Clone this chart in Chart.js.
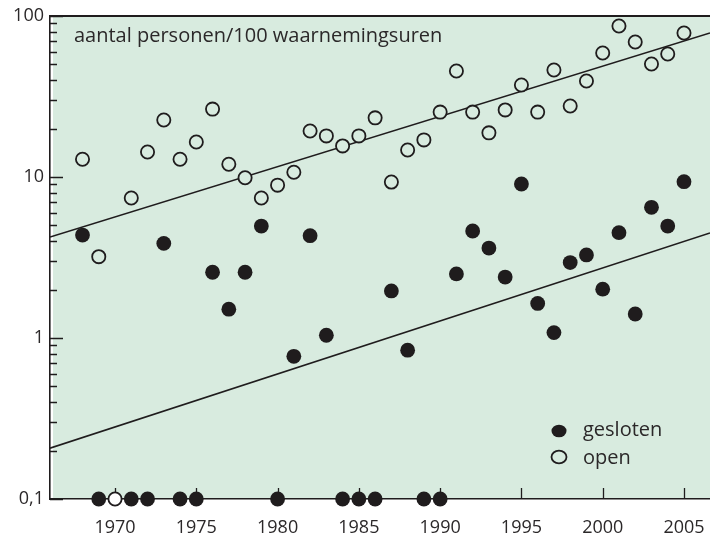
<!DOCTYPE html>
<html>
<head>
<meta charset="utf-8">
<script src="https://cdn.jsdelivr.net/npm/chart.js@4/dist/chart.umd.min.js"></script>
<style>
    html, body { margin: 0; padding: 0; background: #fff; }
    #wrap { width: 710px; height: 539px; }
</style>
</head>
<body>
<div id="wrap"><canvas id="chart" width="710" height="539"></canvas></div>
<script>
// Waarnemingsjaren
const years = [
    1968, 1969, 1970, 1971, 1972, 1973, 1974, 1975, 1976, 1977,
    1978, 1979, 1980, 1981, 1982, 1983, 1984, 1985, 1986, 1987,
    1988, 1989, 1990, 1991, 1992, 1993, 1994, 1995, 1996, 1997,
    1998, 1999, 2000, 2001, 2002, 2003, 2004, 2005
];

// Aantal personen per 100 waarnemingsuren (0 = niets waargenomen, null = geen gegevens)
const openValues = [
    12.9, 3.2, 0, 7.4, 14.3, 22.6, 12.9, 16.5, 26.4, 12.0,
    9.9, 7.4, 8.9, 10.7, 19.3, 18.0, 15.6, 18.0, 23.3, 9.3,
    14.7, 17.0, 25.3, 45.5, 25.3, 18.8, 26.1, 37.3, 25.3, 46.2,
    27.6, 39.5, 58.9, 86.7, 69.0, 50.3, 58.1, 78.4
];
const closedValues = [
    4.36, 0, null, 0, 0, 3.87, 0, 0, 2.56, 1.51,
    2.56, 4.96, 0, 0.77, 4.32, 1.04, 0, 0, 0, 1.96,
    0.84, 0, 0, 2.50, 4.62, 3.62, 2.39, 9.05, 1.64, 1.08,
    2.94, 3.28, 2.01, 4.51, 1.41, 6.48, 4.96, 9.35
];

// Trendlijnen (begin- en eindpunt)
const trendYears = [1966, 2006.6];
const openTrend = [4.24, 78.4];
const closedTrend = [0.207, 4.49];

// As-indeling
const yearTicks = [1970, 1975, 1980, 1985, 1990, 1995, 2000, 2005];
const decades = [0.1, 1, 10];
const Y_MIN = 0.1;
const Y_MAX = 100;
const X_MIN = 1966;
const X_MAX = 2006.6;

const titleText = 'aantal personen/100 waarnemingsuren';
const BG = '#d8ebdf';
const INK = '#1f1c1d';
const TEXT = '#2b2829';
const FONT = '"Open Sans", sans-serif';

function toPoints(values) {
    return years
        .map((y, i) => values[i] === null ? null : { x: y, y: values[i] === 0 ? Y_MIN : values[i] })
        .filter(p => p);
}

function toLine(values) {
    return trendYears.map((y, i) => ({ x: y, y: values[i] }));
}

function isMajor(v) {
    const l = Math.log10(v);
    return Math.abs(l - Math.round(l)) < 1e-9;
}

function formatY(v) {
    return v < 1 ? String(v).replace('.', ',') : String(v);
}

const yTickValues = [];
decades.forEach(d => {
    for (let k = 1; k < 10; k++) yTickValues.push(k * d);
});
yTickValues.push(Y_MAX);

/**
 * Achtergrond, binnenwaartse streepjes, kader, titel en legenda
 */
const framePlugin = {
    id: 'frame',
    beforeDraw(chart) {
        const { ctx, chartArea: a } = chart;
        ctx.save();
        ctx.fillStyle = BG;
        ctx.fillRect(a.left + 3, a.top, a.right - a.left - 3, a.bottom - a.top);
        ctx.restore();
    },
    beforeDatasetsDraw(chart) {
        const { ctx, chartArea: a, scales } = chart;
        ctx.save();
        ctx.strokeStyle = INK;
        ctx.lineWidth = 1.3;
        ctx.beginPath();
        scales.y.ticks.forEach(t => {
            const py = Math.round(scales.y.getPixelForValue(t.value)) + 0.5;
            const len = isMajor(t.value) ? 13 : 7;
            ctx.moveTo(a.left, py);
            ctx.lineTo(a.left + len, py);
        });
        yearTicks.forEach(v => {
            const px = Math.round(scales.x.getPixelForValue(v)) + 0.5;
            ctx.moveTo(px, a.bottom);
            ctx.lineTo(px, a.bottom - 11);
        });
        ctx.stroke();

        // bovenrand
        ctx.lineWidth = 2;
        ctx.beginPath();
        ctx.moveTo(a.left, a.top);
        ctx.lineTo(a.right, a.top);
        ctx.stroke();

        // titel in de grafiek
        ctx.fillStyle = TEXT;
        ctx.font = '20px ' + FONT;
        ctx.textBaseline = 'alphabetic';
        ctx.textAlign = 'left';
        ctx.fillText(titleText, a.left + 24, a.top + 26);
        ctx.restore();
    },
    afterDatasetsDraw(chart) {
        const { ctx } = chart;
        const items = [
            { ds: chart.data.datasets[1], y: 431, base: 436 },
            { ds: chart.data.datasets[0], y: 457, base: 464 }
        ];
        ctx.save();
        items.forEach(item => {
            ctx.beginPath();
            ctx.ellipse(559, item.y, 7.5, 6.3, 0, 0, Math.PI * 2);
            if (item.ds.borderWidth) {
                ctx.fillStyle = BG;
                ctx.fill();
                ctx.lineWidth = item.ds.borderWidth;
                ctx.strokeStyle = INK;
                ctx.stroke();
            } else {
                ctx.fillStyle = INK;
                ctx.fill();
            }
            ctx.fillStyle = TEXT;
            ctx.font = '20px ' + FONT;
            ctx.textBaseline = 'alphabetic';
            ctx.fillText(item.ds.label, 583, item.base);
        });
        ctx.restore();
    }
};

Chart.defaults.font.family = FONT;
Chart.defaults.font.size = 18;
Chart.defaults.color = TEXT;

new Chart(document.getElementById('chart'), {
    type: 'scatter',
    data: {
        datasets: [
            {
                label: 'open',
                data: toPoints(openValues),
                pointRadius: 6.6,
                pointHoverRadius: 6.6,
                borderWidth: 1.8,
                borderColor: INK,
                backgroundColor: ctx => (ctx.raw && ctx.raw.y === Y_MIN) ? '#ffffff' : BG,
                clip: false,
                order: 1
            },
            {
                label: 'gesloten',
                data: toPoints(closedValues),
                pointRadius: 7.4,
                pointHoverRadius: 7.4,
                borderWidth: 0,
                backgroundColor: INK,
                clip: false,
                order: 0
            },
            {
                label: 'trend open',
                data: toLine(openTrend),
                showLine: true,
                pointRadius: 0,
                borderWidth: 1.6,
                borderColor: INK,
                order: 5
            },
            {
                label: 'trend gesloten',
                data: toLine(closedTrend),
                showLine: true,
                pointRadius: 0,
                borderWidth: 1.6,
                borderColor: INK,
                order: 5
            }
        ]
    },
    options: {
        responsive: false,
        animation: false,
        events: [],
        layout: {
            autoPadding: false,
            padding: { top: 16, right: 0, left: 0, bottom: 0 }
        },
        plugins: {
            legend: { display: false },
            tooltip: { enabled: false }
        },
        scales: {
            x: {
                type: 'linear',
                position: 'bottom',
                min: X_MIN,
                max: X_MAX,
                afterBuildTicks: scale => {
                    scale.ticks = yearTicks.map(v => ({ value: v }));
                },
                afterFit: scale => {
                    scale.height = 40;
                    scale.paddingLeft = 0;
                    scale.paddingRight = 0;
                },
                grid: { display: false, drawTicks: false },
                border: { display: true, color: INK, width: 1.6 },
                ticks: {
                    autoSkip: false,
                    maxRotation: 0,
                    padding: 18,
                    color: TEXT,
                    callback: v => String(v)
                }
            },
            y: {
                type: 'logarithmic',
                position: 'left',
                min: Y_MIN,
                max: Y_MAX,
                afterBuildTicks: scale => {
                    scale.ticks = yTickValues.map(v => ({ value: v }));
                },
                afterFit: scale => {
                    scale.width = 50;
                    scale.paddingTop = 0;
                    scale.paddingBottom = 0;
                },
                grid: { display: false, drawTicks: false },
                border: { display: true, color: INK, width: 1.6 },
                ticks: {
                    autoSkip: false,
                    padding: 6,
                    color: TEXT,
                    callback: v => isMajor(v) ? formatY(v) : ''
                }
            }
        }
    },
    plugins: [framePlugin]
});
</script>
</body>
</html>
